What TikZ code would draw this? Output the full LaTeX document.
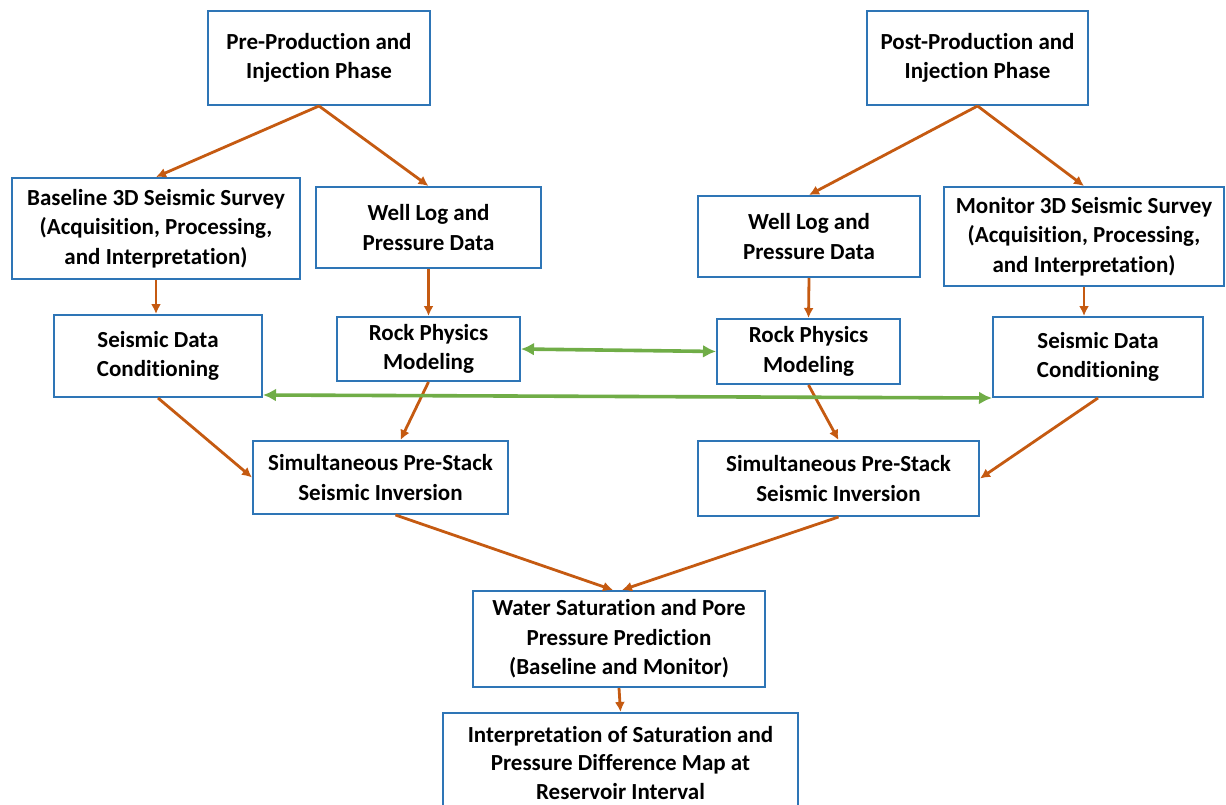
\documentclass[tikz,border=0pt]{standalone}
\usepackage{fontspec}
\setmainfont{Carlito}[Ligatures=NoCommon]
\usetikzlibrary{arrows.meta,positioning}
\definecolor{boxblue}{RGB}{46,117,182}
\definecolor{flowor}{RGB}{197,90,17}
\definecolor{linkgreen}{RGB}{112,173,71}

\begin{document}
\begin{tikzpicture}[x=1pt,y=-1pt,box/.style={draw=boxblue,line width=2pt,align=center,inner sep=0pt,font=\fontsize{23}{29.5}\selectfont\bfseries},arr/.style={draw=flowor,line width=2.8pt,-{Latex[length=10pt,width=10pt]}},link/.style={draw=linkgreen,line width=3.6pt,{Latex[length=13pt,width=13pt]}-{Latex[length=13pt,width=13pt]}}]
\useasboundingbox[fill=white](0,0) rectangle (1226,805);
\node[box,minimum width=222pt,minimum height=94pt](pre) at (319,58){Pre-Production and\\Injection Phase};
\node[box,minimum width=221pt,minimum height=94pt](post) at (977.5,58){Post-Production and\\Injection Phase};
\node[box,minimum width=288pt,minimum height=101pt](base) at (156,228.5){Baseline 3D Seismic Survey\\(Acquisition, Processing,\\and Interpretation)};
\node[box,minimum width=225pt,minimum height=81pt](welll) at (428.5,227.5){Well Log and\\Pressure Data};
\node[box,minimum width=222pt,minimum height=81pt](wellr) at (809,236.5){Well Log and\\Pressure Data};
\node[box,minimum width=280pt,minimum height=99pt](mon) at (1084,236.5){Monitor 3D Seismic Survey\\(Acquisition, Processing,\\and Interpretation)};
\node[box,minimum width=208pt,minimum height=82pt](sdcl) at (158,356){Seismic Data\\Conditioning};
\node[box,minimum width=183pt,minimum height=64pt](rpml) at (428.5,349){Rock Physics\\Modeling};
\node[box,minimum width=183pt,minimum height=65pt](rpmr) at (808.5,351.5){Rock Physics\\Modeling};
\node[box,minimum width=210pt,minimum height=80pt](sdcr) at (1098,357){Seismic Data\\Conditioning};
\node[box,minimum width=255pt,minimum height=73pt](spsl) at (380.5,477.5){Simultaneous Pre-Stack\\Seismic Inversion};
\node[box,minimum width=281pt,minimum height=75pt](spsr) at (838.5,478.5){Simultaneous Pre-Stack\\Seismic Inversion};
\node[box,minimum width=292pt,minimum height=96pt](wsp) at (619,639){Water Saturation and Pore\\Pressure Prediction\\(Baseline and Monitor)};
\node[box,minimum width=355pt,minimum height=100pt,font=\fontsize{23}{28.5}\selectfont\bfseries](interp) at (620.5,763){Interpretation of Saturation and\\Pressure Difference Map at\\Reservoir Interval};
\draw[arr](pre.south)--(base.north);\draw[arr](pre.south)--(welll.north);\draw[arr](post.south)--(wellr.north);\draw[arr](post.south)--(mon.north);
\draw[arr](base.south)--(base.south|-sdcl.north);\draw[arr](welll.south)--(rpml.north);\draw[arr](wellr.south)--(rpmr.north);\draw[arr](mon.south)--(mon.south|-sdcr.north);
\draw[arr](sdcl.south)--(spsl.west);\draw[arr](rpml.south)--([xshift=20pt]spsl.north);\draw[arr](rpmr.south)--(spsr.north);\draw[arr](sdcr.south)--(spsr.east);
\draw[arr]([xshift=15pt]spsl.south)--([xshift=-6pt]wsp.north);\draw[arr](spsr.south)--([xshift=3pt]wsp.north);\draw[arr](wsp.south)--(interp.north);
\draw[link](rpml.east)--(rpmr.west);\draw[link]([yshift=3pt]sdcl.south east)--(sdcr.south west);
\end{tikzpicture}
\end{document}
